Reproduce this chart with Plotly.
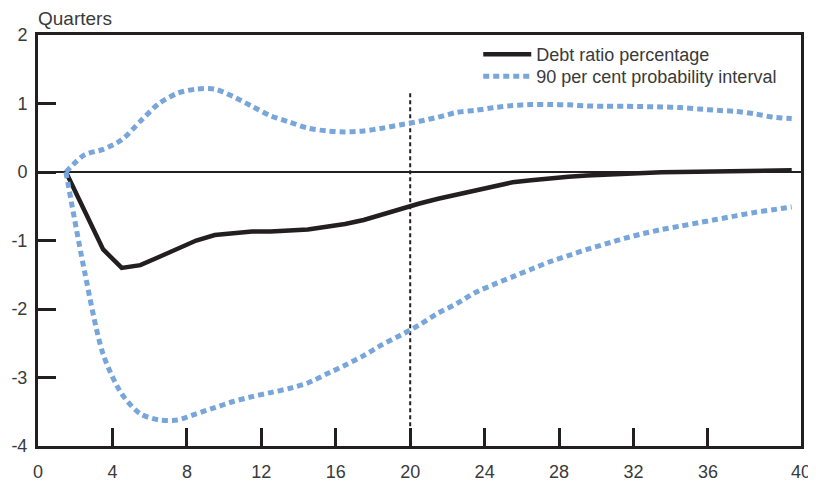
import plotly.graph_objects as go

quarters = list(range(1, 41))

debt_ratio = [0.0, -0.58, -1.13, -1.40, -1.36, -1.24, -1.12, -1.00, -0.92, -0.89,
              -0.87, -0.87, -0.86, -0.84, -0.80, -0.76, -0.70, -0.62, -0.53, -0.46,
              -0.39, -0.33, -0.26, -0.20, -0.15, -0.12, -0.09, -0.07, -0.05, -0.035,
              -0.025, -0.015, -0.005, 0.0, 0.005, 0.01, 0.015, 0.02, 0.025, 0.025]

upper_band = [0.0, 0.25, 0.33, 0.47, 0.74, 1.00, 1.15, 1.21, 1.21, 1.10,
              0.96, 0.82, 0.73, 0.64, 0.60, 0.585, 0.60, 0.64, 0.69, 0.74,
              0.80, 0.87, 0.90, 0.94, 0.97, 0.985, 0.985, 0.98, 0.965, 0.96,
              0.96, 0.955, 0.95, 0.94, 0.92, 0.90, 0.885, 0.85, 0.80, 0.78]

lower_band = [0.0, -1.45, -2.66, -3.24, -3.53, -3.62, -3.62, -3.53, -3.44, -3.35,
              -3.28, -3.22, -3.16, -3.08, -2.95, -2.82, -2.68, -2.52, -2.38, -2.23,
              -2.06, -1.92, -1.76, -1.64, -1.53, -1.42, -1.31, -1.22, -1.13, -1.05,
              -0.97, -0.90, -0.84, -0.79, -0.74, -0.69, -0.64, -0.59, -0.55, -0.51]

x_tick_vals = [0, 4, 8, 12, 16, 20, 24, 28, 32, 36, 41]
x_tick_text = ["0", "4", "8", "12", "16", "20", "24", "28", "32", "36", "40"]
y_tick_vals = [2, 1, 0, -1, -2, -3, -4]
y_tick_text = ["2", "1", "0", "-1", "-2", "-3", "-4"]

# quarter q is drawn at the centre of its slot
xpos = [q + 0.5 for q in quarters]

BLACK = "#231f20"
BLUE = "#78a6da"
FONT = "Liberation Sans"
TEXT = "#3a3a3a"

fig = go.Figure()

fig.add_trace(go.Scatter(
    x=xpos, y=debt_ratio, mode="lines", name="Debt ratio percentage",
    line=dict(color=BLACK, width=4.5), legend="legend"))
fig.add_trace(go.Scatter(
    x=xpos, y=upper_band, mode="lines", name="90 per cent probability interval",
    line=dict(color=BLUE, width=5, dash="6px,4px", shape="spline", smoothing=0.8),
    legend="legend2"))
fig.add_trace(go.Scatter(
    x=xpos, y=lower_band, mode="lines", showlegend=False,
    line=dict(color=BLUE, width=5, dash="6px,4px", shape="spline", smoothing=0.8)))

# zero line
fig.add_shape(type="line", xref="paper", x0=0, x1=1, yref="y", y0=0, y1=0,
              line=dict(color=BLACK, width=2), layer="below")
# vertical dashed line at quarter 20
fig.add_shape(type="line", xref="x", x0=20, x1=20, yref="y", y0=1.15, y1=-4,
              line=dict(color=BLACK, width=2, dash="4px,3px"), layer="below")

fig.add_annotation(text="Quarters", xref="paper", yref="paper", x=-0.002, y=1.0,
                   xanchor="left", yanchor="bottom", yshift=4, showarrow=False,
                   font=dict(family=FONT, size=19, color=TEXT))

legend_common = dict(xanchor="left", yanchor="top", bgcolor="rgba(0,0,0,0)",
                     font=dict(family=FONT, size=18, color=TEXT), itemwidth=48)

fig.update_layout(
    width=816, height=488,
    margin=dict(l=30, r=23, t=27, b=50, autoexpand=False),
    plot_bgcolor="white", paper_bgcolor="white",
    showlegend=True,
    legend=dict(x=0.577, y=0.9976, **legend_common),
    legend2=dict(x=0.577, y=0.944, **legend_common),
    xaxis=dict(range=[0, 41], tickvals=x_tick_vals, ticktext=x_tick_text,
               showgrid=False, zeroline=False, showline=True, linecolor=BLACK,
               linewidth=3, mirror=True, ticks="inside", ticklen=18, tickwidth=2.5,
               tickcolor=BLACK, ticklabelstandoff=7, automargin=False,
               tickfont=dict(family=FONT, size=18, color=TEXT)),
    yaxis=dict(range=[-4, 2], tickvals=y_tick_vals, ticktext=y_tick_text,
               showgrid=False, zeroline=False, showline=True, linecolor=BLACK,
               linewidth=3, mirror=True, ticks="inside", ticklen=18, tickwidth=2.5,
               tickcolor=BLACK, ticklabelstandoff=4, automargin=False,
               tickfont=dict(family=FONT, size=18, color=TEXT)),
)

fig.write_html("out.html")
